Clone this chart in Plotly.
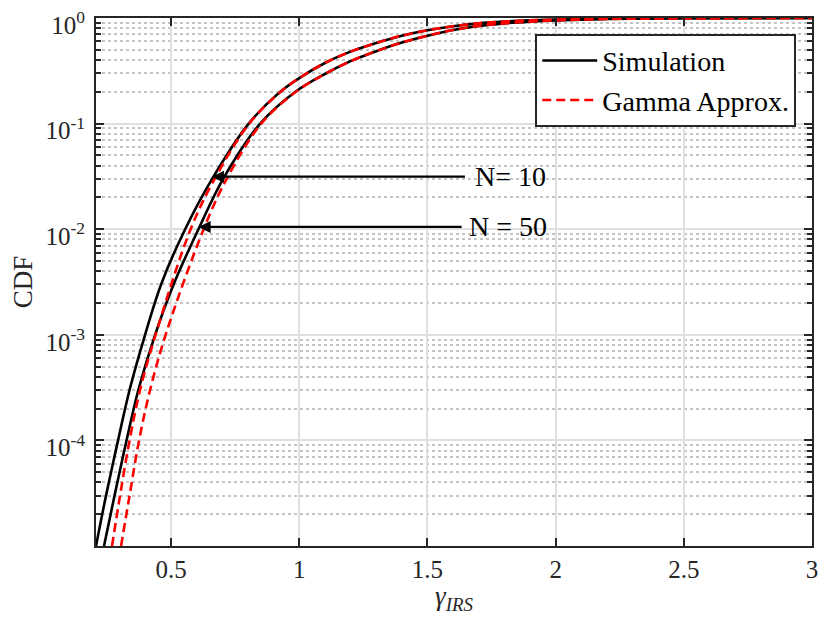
import math
import plotly.graph_objects as go

# Simulation, N = 10
sim_n10_x = [0.207, 0.2461, 0.293, 0.3379, 0.3984, 0.4609, 0.5547, 0.6601, 0.8027, 0.9258,
             1.0, 1.1, 1.2, 1.3, 1.4, 1.5, 1.6, 1.7, 1.8, 1.9, 2.0, 2.2, 2.5, 3.0]
sim_n10_y = [1e-5, 3e-5, 1e-4, 3e-4, 1e-3, 3e-3, 1e-2, 3e-2, 0.1, 0.2,
             0.27, 0.375, 0.48, 0.58, 0.68, 0.765, 0.835, 0.89, 0.925, 0.95, 0.965, 0.985, 0.996, 1.0]

# Simulation, N = 50
sim_n50_x = [0.2383, 0.2793, 0.3261, 0.3722, 0.4375, 0.5097, 0.6066, 0.7031, 0.8476, 0.985,
             1.1, 1.2, 1.3, 1.4, 1.5, 1.6, 1.7, 1.8, 1.9, 2.0, 2.2, 2.5, 3.0]
sim_n50_y = [1e-5, 3e-5, 1e-4, 3e-4, 1e-3, 3e-3, 1e-2, 3e-2, 0.1, 0.2,
             0.295, 0.39, 0.485, 0.585, 0.68, 0.77, 0.84, 0.89, 0.925, 0.95, 0.978, 0.994, 1.0]

# Gamma approximation, N = 10
gam_n10_x = [0.2695, 0.3008, 0.3379, 0.3789, 0.4394, 0.5761, 0.6699, 0.8047, 0.9270,
             1.0, 1.1, 1.2, 1.3, 1.4, 1.5, 1.6, 1.7, 1.8, 1.9, 2.0, 2.2, 2.5, 3.0]
gam_n10_y = [1e-5, 3e-5, 1e-4, 3e-4, 1e-3, 1e-2, 3e-2, 0.1, 0.2,
             0.27, 0.375, 0.48, 0.58, 0.68, 0.765, 0.835, 0.89, 0.925, 0.95, 0.965, 0.985, 0.996, 1.0]

# Gamma approximation, N = 50
gam_n50_x = [0.3047, 0.3379, 0.375, 0.418, 0.4785, 0.6269, 0.7168, 0.8515, 0.9870,
             1.1, 1.2, 1.3, 1.4, 1.5, 1.6, 1.7, 1.8, 1.9, 2.0, 2.2, 2.5, 3.0]
gam_n50_y = [1e-5, 3e-5, 1e-4, 3e-4, 1e-3, 1e-2, 3e-2, 0.1, 0.2,
             0.295, 0.39, 0.485, 0.585, 0.68, 0.77, 0.84, 0.89, 0.925, 0.95, 0.978, 0.994, 1.0]

x_ticks = [0.5, 1, 1.5, 2, 2.5, 3]
x_ticktext = ["0.5", "1", "1.5", "2", "2.5", "3"]
y_ticks = [1e-4, 1e-3, 1e-2, 1e-1, 1e0]
y_ticktext = ["10<sup>-4</sup>", "10<sup>-3</sup>", "10<sup>-2</sup>", "10<sup>-1</sup>", "10<sup>0</sup>"]
y_minor = [m * 10 ** e for e in range(-5, 0) for m in range(2, 10)]

FONT = "Liberation Serif"
INK = "#262626"

fig = go.Figure()
sims = [(sim_n10_x, sim_n10_y, True), (sim_n50_x, sim_n50_y, False)]
gams = [(gam_n10_x, gam_n10_y, True), (gam_n50_x, gam_n50_y, False)]
for xs, ys, show in sims:
    fig.add_trace(go.Scatter(x=xs, y=ys, mode="lines", name="Simulation", legendgroup="sim",
                             showlegend=show,
                             line=dict(color="black", width=2.6, shape="spline", smoothing=1.0)))
for xs, ys, show in gams:
    fig.add_trace(go.Scatter(x=xs, y=ys, mode="lines", name="Gamma Approx.", legendgroup="gam",
                             showlegend=show,
                             line=dict(color="red", width=2.6, dash="9px,5px", shape="spline", smoothing=1.0)))

# arrows pointing to the two curve pairs: label, head x, head y, tail x, label x
arrows = [("N= 10", 0.659, 0.0314, 1.652, 1.679), ("N = 50", 0.607, 0.0105, 1.639, 1.654)]
for label, hx, hy, tx, lx in arrows:
    ly = math.log10(hy)
    fig.add_annotation(x=hx, y=ly, ax=tx, ay=ly, xref="x", yref="y", axref="x", ayref="y",
                       text="", showarrow=True, arrowhead=2, arrowsize=1.1, arrowwidth=2.2,
                       arrowcolor="black")
    fig.add_annotation(x=lx, y=ly, xref="x", yref="y", text=label, showarrow=False,
                       xanchor="left", yanchor="middle", font=dict(family=FONT, size=28, color="black"))

# the page body has an 8px margin, so the figure is a bit smaller than the window
fig.update_layout(
    width=814, height=607,
    margin=dict(l=88, r=10, t=10, b=69),
    paper_bgcolor="white", plot_bgcolor="white",
    font=dict(family=FONT, size=25, color=INK),
    showlegend=True,
    legend=dict(x=0.978, y=0.970, xanchor="right", yanchor="top", bgcolor="white",
                bordercolor=INK, borderwidth=2, font=dict(family=FONT, size=28, color="black"),
                itemwidth=55, tracegroupgap=0),
)
fig.update_xaxes(
    range=[0.207, 3], tickvals=x_ticks, ticktext=x_ticktext, automargin=False,
    ticks="inside", ticklen=8, tickwidth=2, tickcolor=INK, ticklabelstandoff=0,
    ticklabeloverflow="allow",
    showline=True, linecolor=INK, linewidth=2, mirror="ticks",
    showgrid=True, gridcolor="#dfdfdf", gridwidth=2, zeroline=False,
    title=dict(text="<i>γ</i><sub><i>IRS</i></sub>", font=dict(family=FONT, size=27), standoff=12),
    tickfont=dict(family=FONT, size=25, color=INK),
)
fig.update_yaxes(
    type="log", range=[-5, 0], tickvals=y_ticks, ticktext=y_ticktext, automargin=False,
    ticks="inside", ticklen=8, tickwidth=2, tickcolor=INK, ticklabelstandoff=4,
    ticklabeloverflow="allow", ticklabelshift=7,
    showline=True, linecolor=INK, linewidth=2, mirror="ticks",
    showgrid=True, gridcolor="#dfdfdf", gridwidth=2, zeroline=False,
    minor=dict(tickmode="array", tickvals=y_minor, ticks="inside", ticklen=5, tickwidth=2,
               tickcolor=INK, showgrid=True, gridcolor="#c4c4c4", gridwidth=2, griddash="dot"),
    title=dict(text="CDF", font=dict(family=FONT, size=27), standoff=6),
    tickfont=dict(family=FONT, size=25, color=INK),
)

fig.write_html("out.html")
